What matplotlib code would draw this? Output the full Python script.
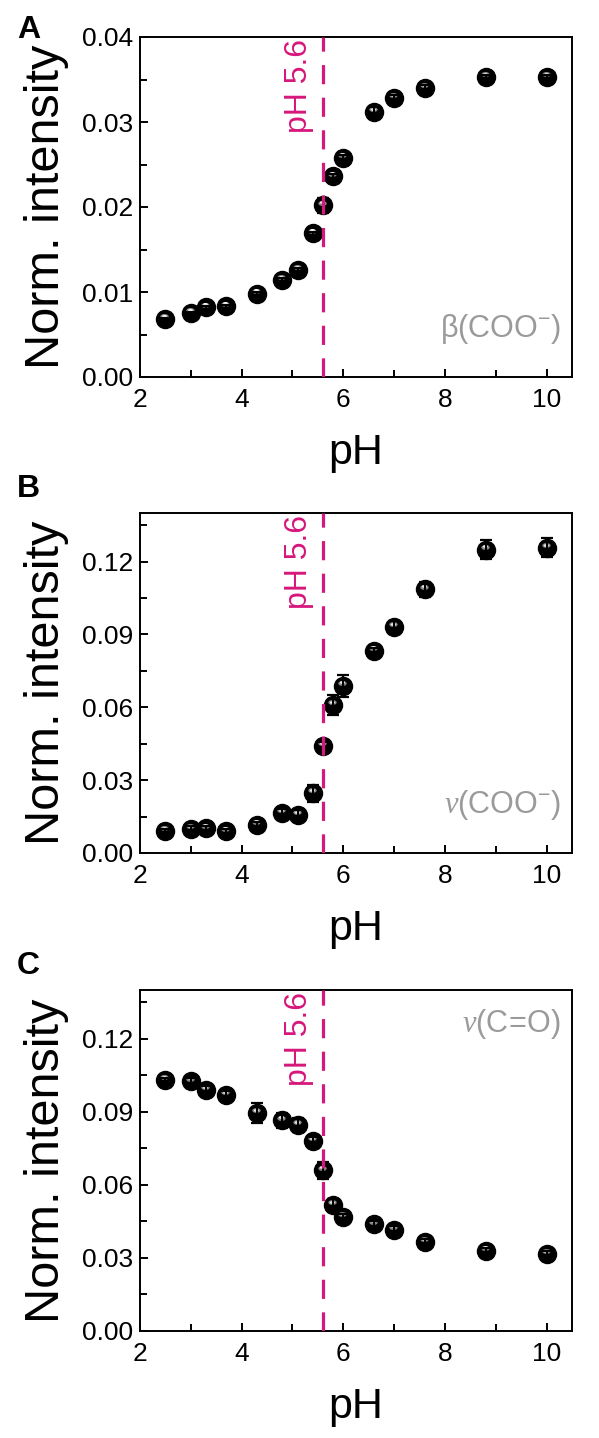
import matplotlib
matplotlib.use('Agg')
import matplotlib.pyplot as plt
from matplotlib.path import Path
from matplotlib.transforms import Affine2D, ScaledTranslation, blended_transform_factory
from matplotlib.ticker import MultipleLocator, FormatStrFormatter

plt.rcParams['font.family'] = ['Liberation Sans', 'DejaVu Sans']
plt.rcParams['mathtext.fontset'] = 'custom'
plt.rcParams['mathtext.rm'] = 'Liberation Sans'
plt.rcParams['mathtext.it'] = 'Liberation Serif:italic'

# pH values (shared by all panels)
ph = [2.5, 3.0, 3.3, 3.7, 4.3, 4.8, 5.1, 5.4, 5.6, 5.8, 6.0, 6.6, 7.0, 7.6, 8.8, 10.0]

# A: beta(COO-)
beta_coo = [0.0068, 0.0075, 0.0082, 0.0083, 0.0098, 0.0114, 0.0126, 0.0169,
            0.0202, 0.0236, 0.0258, 0.0312, 0.0328, 0.0340, 0.0353, 0.0353]
beta_coo_err = [0.0002, 0.0002, 0.0002, 0.0002, 0.0002, 0.0003, 0.0002, 0.0002,
                0.0009, 0.0003, 0.0003, 0.0006, 0.0004, 0.0003, 0.0002, 0.0002]

# B: nu(COO-)
nu_coo = [0.0091, 0.0100, 0.0101, 0.0089, 0.0117, 0.0165, 0.0157, 0.0247,
          0.0440, 0.0610, 0.0689, 0.0833, 0.0930, 0.1085, 0.1249, 0.1257]
nu_coo_err = [0.0008, 0.0010, 0.0010, 0.0008, 0.0012, 0.0015, 0.0018, 0.0035,
              0.0015, 0.0040, 0.0045, 0.0010, 0.0025, 0.0030, 0.0040, 0.0040]

# C: nu(C=O)
nu_co = [0.1030, 0.1025, 0.0990, 0.0970, 0.0895, 0.0865, 0.0845, 0.0780,
         0.0659, 0.0518, 0.0468, 0.0438, 0.0416, 0.0365, 0.0330, 0.0316]
nu_co_err = [0.0010, 0.0012, 0.0015, 0.0015, 0.0040, 0.0030, 0.0030, 0.0015,
             0.0035, 0.0025, 0.0012, 0.0012, 0.0015, 0.0012, 0.0012, 0.0012]

panels = [
    ('A', beta_coo, beta_coo_err, 0.04, 0.01, r'$\mathrm{\beta(COO^{-})}$', 'bottom'),
    ('B', nu_coo, nu_coo_err, 0.14, 0.03, r'$\nu\mathrm{(COO^{-})}$', 'bottom'),
    ('C', nu_co, nu_co_err, 0.14, 0.03, r'$\nu\mathrm{(C\!=\!O)}$', 'top'),
]

W, H = 599, 1438
fig = plt.figure(figsize=(W / 100, H / 100), dpi=100)

# axes boxes in pixels: (top, bottom), panel letter centre y
boxes = [(37, 377, 30), (513, 853, 489), (990, 1331, 966)]
left_px, right_px = 140, 572

pink = '#d6177b'
gray = '#9a9a9a'

ellipse = Path(Affine2D().scale(1.0, 0.6).transform(Path.unit_circle().vertices),
               Path.unit_circle().codes)

for (letter, yv, ye, ymax, ystep, tag, tagpos), (top, bot, ly) in zip(panels, boxes):
    ax = fig.add_axes([left_px / W, 1 - bot / H, (right_px - left_px) / W, (bot - top) / H])
    ax.set_xlim(2, 10.5)
    ax.set_ylim(0, ymax)

    ax.axvline(5.6, color=pink, lw=2.3, dashes=(6, 4.2), zorder=8)

    ax.plot(ph, yv, 'o', ms=13, color='black', mec='black', zorder=3)
    # sphere highlight
    off = ax.transData + ScaledTranslation(-1.0 / 100, 2.8 / 100, fig.dpi_scale_trans)
    ax.plot(ph, yv, ls='none', marker=ellipse, ms=6, color='#8a8a8a', mew=0,
            transform=off, zorder=4)
    off2 = ax.transData + ScaledTranslation(-1.0 / 100, 3.2 / 100, fig.dpi_scale_trans)
    ax.plot(ph, yv, ls='none', marker=ellipse, ms=3.5, color='white', mew=0,
            transform=off2, zorder=5)
    ax.errorbar(ph, yv, yerr=ye, fmt='none', ecolor='black', elinewidth=1.6,
                capsize=4.5, capthick=1.6, zorder=6)

    ax.xaxis.set_major_locator(MultipleLocator(2))
    ax.xaxis.set_minor_locator(MultipleLocator(1))
    ax.yaxis.set_major_locator(MultipleLocator(ystep))
    ax.yaxis.set_minor_locator(MultipleLocator(ystep / 2))
    ax.yaxis.set_major_formatter(FormatStrFormatter('%.2f'))
    ax.tick_params(which='both', direction='in', top=False, right=False,
                   width=1.4, labelsize=19)
    ax.tick_params(which='major', length=6)
    ax.tick_params(which='minor', length=5)
    ax.tick_params(axis='x', pad=8)
    ax.tick_params(axis='y', pad=5)
    for s in ax.spines.values():
        s.set_linewidth(1.4)

    ax.set_ylabel('Norm. intensity', fontsize=35)
    ax.yaxis.set_label_coords(-0.165, 0.5)
    ax.set_xlabel('pH', fontsize=31)
    ax.xaxis.set_label_coords(0.5, -0.165)

    tr = blended_transform_factory(ax.transData, ax.transAxes)
    ax.text(5.42, 0.995, 'pH 5.6', transform=tr, rotation=90, ha='right', va='top',
            color=pink, fontsize=23)

    if tagpos == 'bottom':
        ax.text(0.975, 0.14, tag, transform=ax.transAxes, ha='right', va='center',
                color=gray, fontsize=22)
    else:
        ax.text(0.975, 0.9, tag, transform=ax.transAxes, ha='right', va='center',
                color=gray, fontsize=22)

    fig.text(17 / W, 1 - ly / H, letter, fontsize=23, fontweight='bold',
             ha='left', va='center')

fig.savefig('out.png', dpi=100, facecolor='white')
